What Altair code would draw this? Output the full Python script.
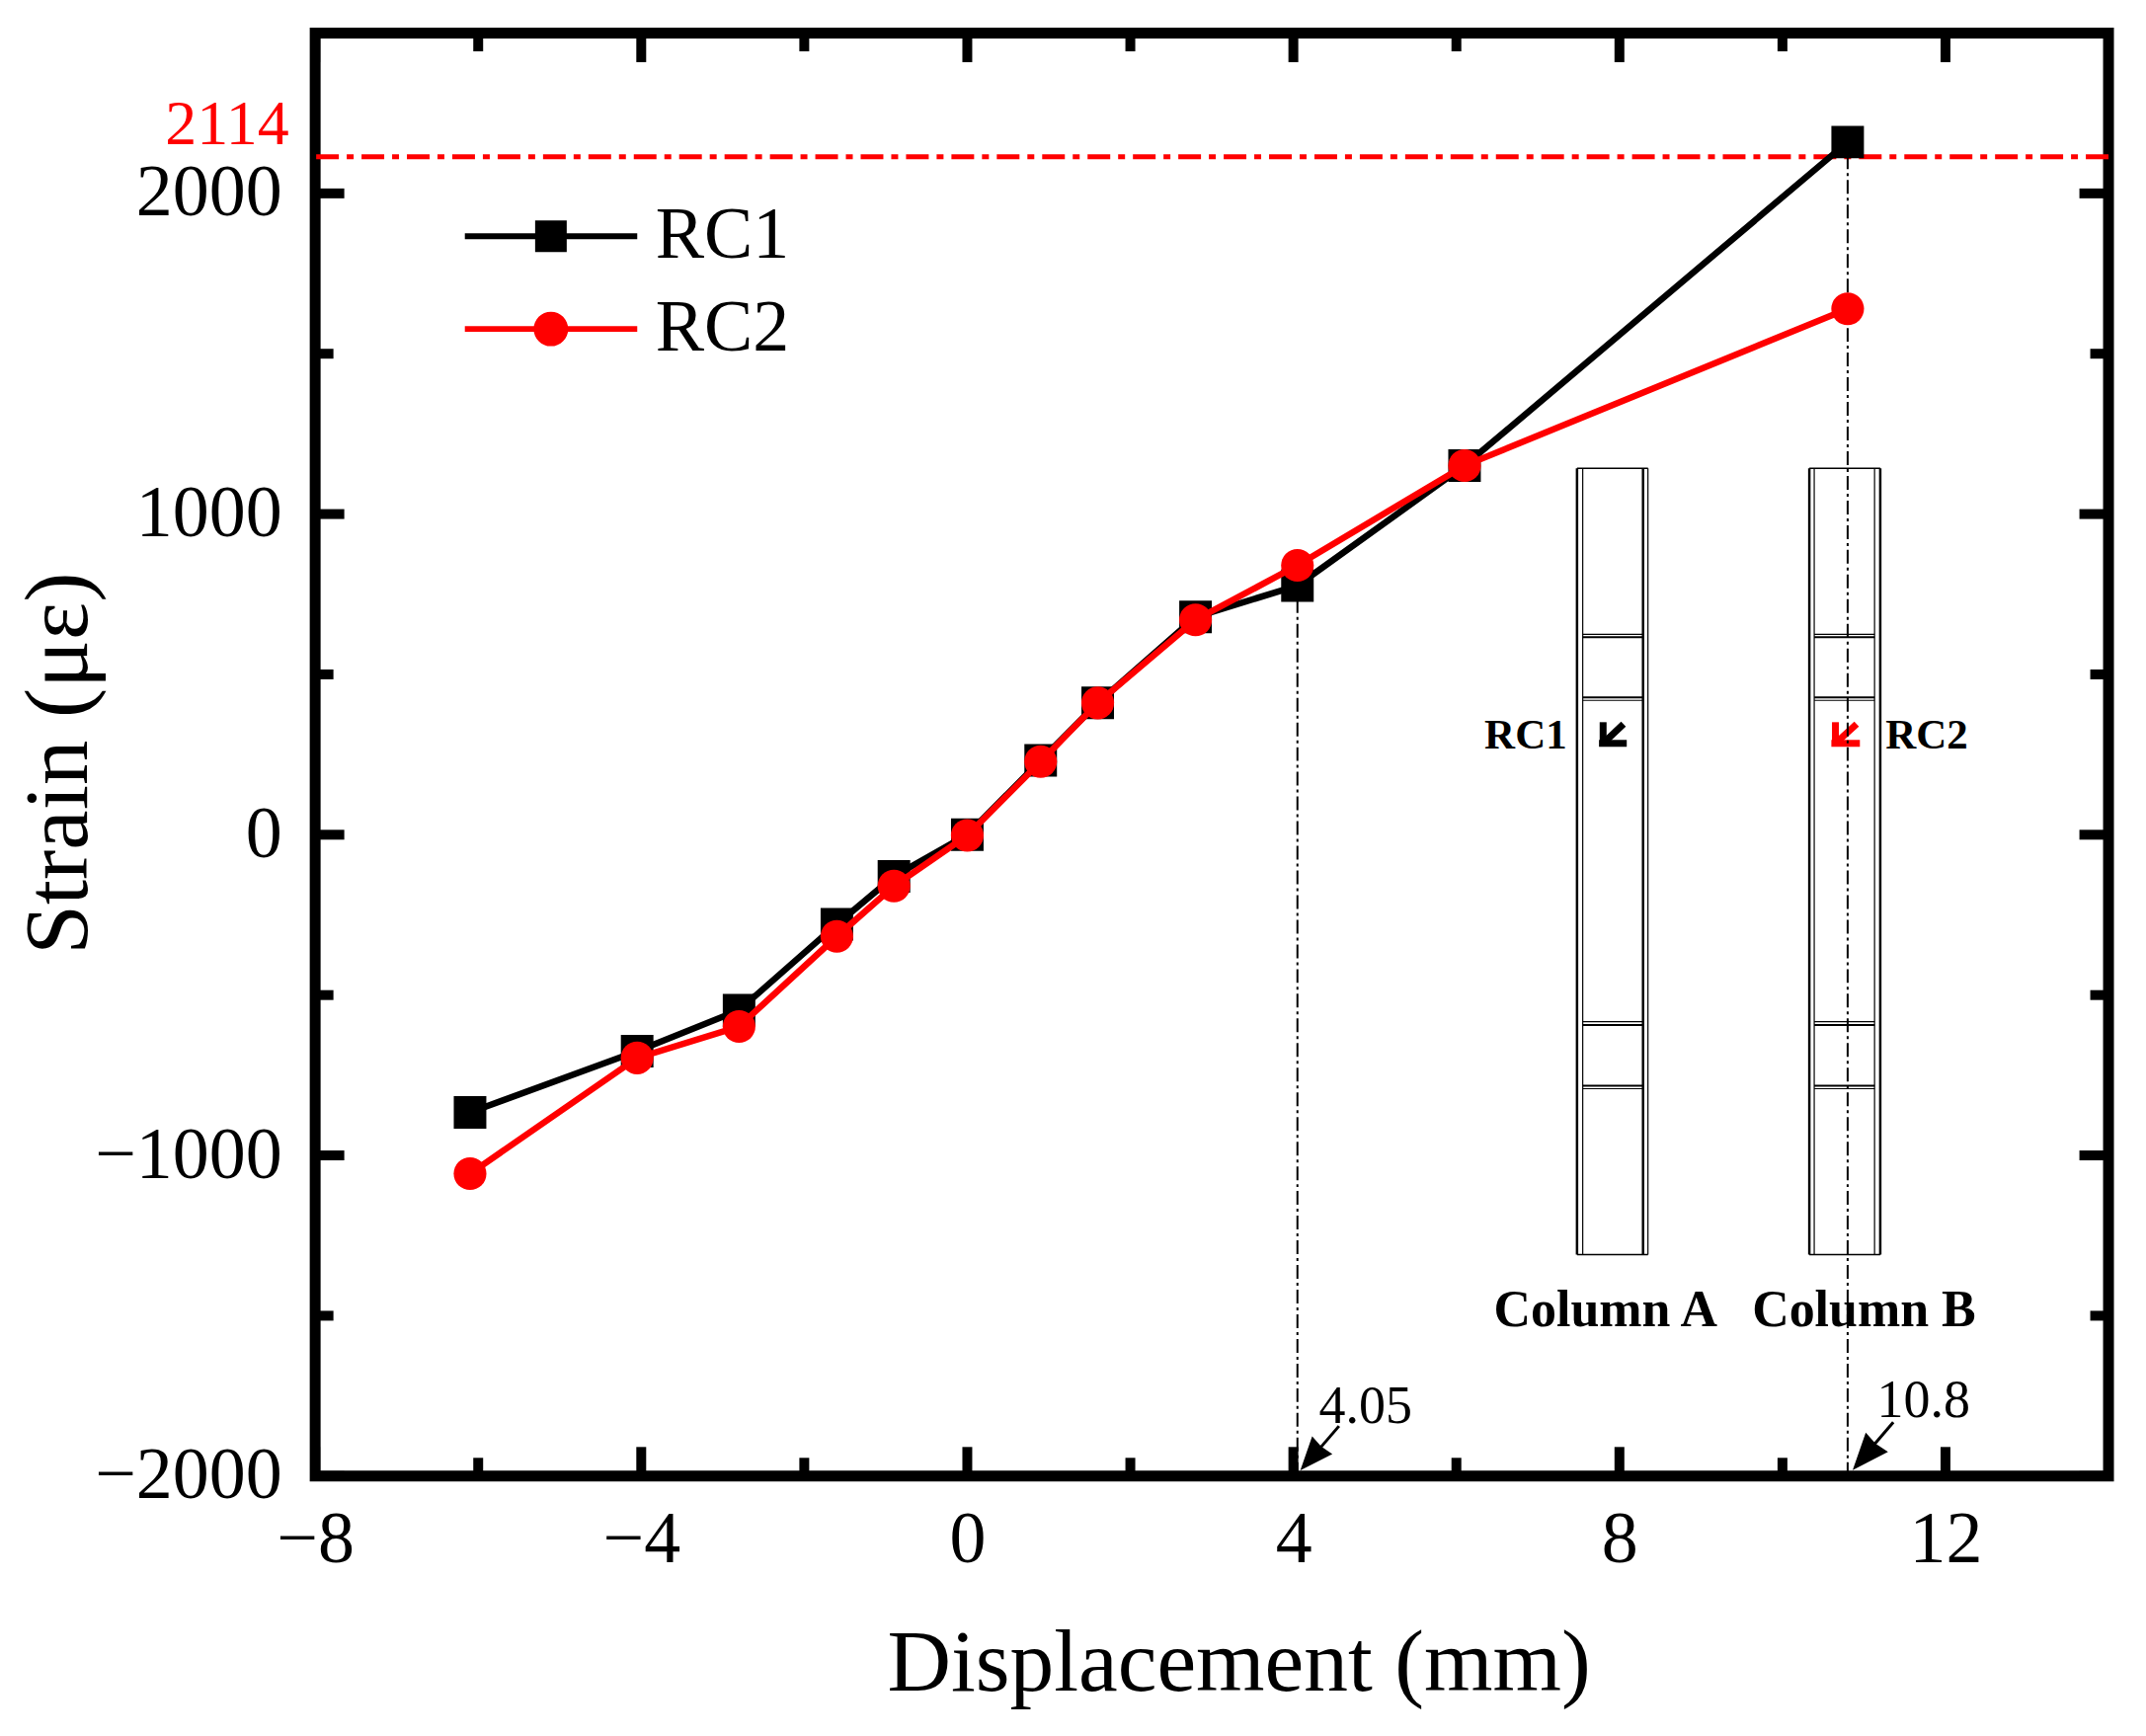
import altair as alt
import pandas as pd

FONT = "Liberation Serif"
SERIES = ["RC1", "RC2"]
DISP = [-6.1, -4.05, -2.8, -1.6, -0.9, 0, 0.9, 1.6, 2.8, 4.05, 6.1, 10.8]
RC1 = [-866, -675, -547, -279, -130, 0, 232, 411, 679, 777, 1151, 2160]
RC2 = [-1057, -696, -598, -317, -160, -2, 228, 411, 670, 840, 1151, 1640]

X_MAJOR = [-8, -4, 0, 4, 8, 12]
X_MINOR = [-6, -2, 2, 6, 10]
Y_MAJOR = [-2000, -1000, 0, 1000, 2000]
Y_MINOR = [-1500, -500, 500, 1500]

LIMIT = 2114
LIMIT_LABEL = ["2114"]
GUIDE_X = [4.05, 10.8]
GUIDE_TOP = [777, 2160]

# inset schematic: column edges and cross lines, in axis units
COL_TOP, COL_BOTTOM = 1143, -1309
COLUMNS = {
    "A": {"outer": [7.48, 8.29], "inner": [7.55, 8.35], "span": [7.55, 8.29]},
    "B": {"outer": [10.33, 11.20], "inner": [10.39, 11.13], "span": [10.39, 11.13]},
}
CROSS_THICK = [616, 428, -593, -783]
CROSS_THIN = [625, 419, -583, -792]

W, H = 1818, 1463
MAJOR_LEN, MINOR_LEN = 29.5, 18.5
TICK_W = 10

x_scale = alt.Scale(domain=[-8, 14], nice=False, zero=False)
y_scale = alt.Scale(domain=[-2000, 2500], nice=False, zero=False)
x_axis = alt.Axis(values=X_MAJOR, tickSize=0, domain=False, grid=False, format="d",
                  labelFont=FONT, labelFontSize=74, labelColor="black", labelPadding=29,
                  labelFlush=False, labelOverlap=False, labelAngle=0, labelLimit=400,
                  title="Displacement (mm)", titleFont=FONT, titleFontSize=89.5,
                  titleFontWeight="normal", titleColor="black", titleX=936, titleY=216.5,
                  titleAlign="center", titleBaseline="alphabetic")
y_axis = alt.Axis(values=Y_MAJOR, tickSize=0, domain=False, grid=False, format="d",
                  labelFont=FONT, labelFontSize=74, labelColor="black", labelPadding=34,
                  labelFlush=False, labelOverlap=False, labelLimit=400,
                  title="Strain (\u03bc\u03b5)", titleFont=FONT, titleFontSize=91,
                  titleFontWeight="normal", titleColor="black", titleX=-231.5, titleY=740,
                  titleAngle=270, titleAlign="center", titleBaseline="alphabetic")


def X(f="x"):
    return alt.X(f"{f}:Q", scale=x_scale, axis=x_axis)


def Y(f="y"):
    return alt.Y(f"{f}:Q", scale=y_scale, axis=y_axis)


df = pd.DataFrame({
    "x": DISP * 2,
    "y": RC1 + RC2,
    "series": ["RC1"] * len(DISP) + ["RC2"] * len(DISP),
})
d1, d2 = df[df.series == "RC1"], df[df.series == "RC2"]

layers = []

# frame ticks on all four sides
for vals, length in [(X_MAJOR, MAJOR_LEN), (X_MINOR, MINOR_LEN)]:
    d = pd.DataFrame({"x": vals})
    layers.append(alt.Chart(d).mark_rule(color="black", strokeWidth=TICK_W).encode(
        x=X(), y=alt.value(H), y2=alt.value(H - length)))
    layers.append(alt.Chart(d).mark_rule(color="black", strokeWidth=TICK_W).encode(
        x=X(), y=alt.value(0), y2=alt.value(length)))
for vals, length in [(Y_MAJOR, MAJOR_LEN), (Y_MINOR, MINOR_LEN)]:
    d = pd.DataFrame({"y": vals})
    layers.append(alt.Chart(d).mark_rule(color="black", strokeWidth=TICK_W).encode(
        y=Y(), x=alt.value(0), x2=alt.value(length)))
    layers.append(alt.Chart(d).mark_rule(color="black", strokeWidth=TICK_W).encode(
        y=Y(), x=alt.value(W), x2=alt.value(W - length)))

# inset columns
segs = []
for c in COLUMNS.values():
    for xv in c["outer"]:
        segs.append(dict(x=xv, x2=xv, y=COL_TOP, y2=COL_BOTTOM, w=2.5))
    for xv in c["inner"]:
        segs.append(dict(x=xv, x2=xv, y=COL_TOP, y2=COL_BOTTOM, w=1.2))
    all_x = c["outer"] + c["inner"]
    segs.append(dict(x=min(all_x), x2=max(all_x), y=COL_TOP, y2=COL_TOP, w=1.5))
    segs.append(dict(x=min(all_x), x2=max(all_x), y=COL_BOTTOM, y2=COL_BOTTOM, w=1.5))
    for yv in CROSS_THICK:
        segs.append(dict(x=c["span"][0], x2=c["span"][1], y=yv, y2=yv, w=2))
    for yv in CROSS_THIN:
        segs.append(dict(x=c["span"][0], x2=c["span"][1], y=yv, y2=yv, w=1.2))
layers.append(alt.Chart(pd.DataFrame(segs)).mark_rule(color="black").encode(
    x=X(), x2="x2:Q", y=Y(), y2="y2:Q", strokeWidth=alt.StrokeWidth("w:Q", scale=None)))

# small L-shaped arrows in the inset
for color, a, b, c_, d_ in [("black", 7.80, 7.75, 8.09, 8.05), ("#ff0000", 10.65, 10.60, 10.95, 10.91)]:
    arrow = pd.DataFrame([
        dict(x=a, x2=a, y=351, y2=275),
        dict(x=b, x2=c_, y=285, y2=285),
        dict(x=a, x2=d_, y=285, y2=345),
    ])
    layers.append(alt.Chart(arrow).mark_rule(color=color, strokeWidth=7).encode(
        x=X(), x2="x2:Q", y=Y(), y2="y2:Q"))

# guides
layers.append(alt.Chart(pd.DataFrame({"y": [LIMIT]})).mark_rule(
    color="#ff0000", strokeWidth=5, strokeDash=[23, 8, 7, 8]).encode(y=Y()))
layers.append(alt.Chart(pd.DataFrame({"x": GUIDE_X, "y": [-2000, -2000], "y2": GUIDE_TOP})).mark_rule(
    color="black", strokeWidth=2, strokeDash=[14, 4, 3, 4]).encode(x=X(), y=Y(), y2="y2:Q"))

# callout arrows
shafts = pd.DataFrame([
    dict(x=4.56, y=-1844, x2=4.30, y2=-1921),
    dict(x=11.36, y=-1832, x2=11.08, y2=-1915),
])
layers.append(alt.Chart(shafts).mark_rule(color="black", strokeWidth=3).encode(
    x=X(), x2="x2:Q", y=Y(), y2="y2:Q"))
HEAD = "M0,-1L0.8,1L0,0.9L-0.8,1Z"
heads = pd.DataFrame([dict(x=4.22, y=-1943, s=1150), dict(x=11.01, y=-1938, s=1400)])
layers.append(alt.Chart(heads).mark_point(shape=HEAD, filled=True, color="black", opacity=1,
                                          angle=221, strokeWidth=0).encode(
    x=X(), y=Y(), size=alt.Size("s:Q", scale=None)))

# data series
layers.append(alt.Chart(d1).mark_line(color="black", strokeWidth=6.5).encode(x=X(), y=Y(), order="x:Q"))
layers.append(alt.Chart(d1).mark_point(shape="square", filled=True, color="black", opacity=1,
                                       size=1089, strokeWidth=0).encode(x=X(), y=Y()))
layers.append(alt.Chart(d2).mark_line(color="#ff0000", strokeWidth=6.5).encode(x=X(), y=Y(), order="x:Q"))
layers.append(alt.Chart(d2).mark_point(shape="circle", filled=True, color="#ff0000", opacity=1,
                                       size=1100, strokeWidth=0).encode(x=X(), y=Y()))

# text annotations
def text(rows, size, color="black", weight="normal", align="center"):
    return alt.Chart(pd.DataFrame(rows)).mark_text(
        font=FONT, fontSize=size, color=color, fontWeight=weight, align=align,
        baseline="alphabetic").encode(x=X(), y=Y(), text="t:N")


layers.append(text([dict(x=-8.32, y=2152, t=LIMIT_LABEL[0])], 64, color="#ff0000", align="right"))
layers.append(text([dict(x=4.885, y=-1834, t="4.05"), dict(x=11.73, y=-1816, t="10.8")], 54))
layers.append(text([dict(x=6.85, y=268, t="RC1"), dict(x=11.77, y=268, t="RC2")], 43, weight="bold"))
layers.append(text([dict(x=7.83, y=-1533, t="Column A"), dict(x=11.0, y=-1533, t="Column B")], 52, weight="bold"))

# native legend, from an empty layer so only the scales feed it
LINE = "M-1,-0.034H1V0.034H-1Z"
LEGEND_SHAPES = [
    LINE + "M-0.183,-0.183H0.183V0.183H-0.183Z",
    LINE + "M0.2,0A0.2,0.2,0,1,1,-0.2,0A0.2,0.2,0,1,1,0.2,0Z",
]
leg = alt.Legend(title=None, orient="none", legendX=151.5, legendY=159, padding=0,
                 symbolSize=30625, clipHeight=94, rowPadding=0, labelOffset=18.5,
                 symbolStrokeWidth=0, symbolOpacity=1, labelFont=FONT, labelFontSize=74,
                 labelColor="black", labelLimit=400, labelBaseline="middle")
layers.append(alt.Chart(df).transform_filter("false").mark_point(filled=True, opacity=1).encode(
    x=X(), y=Y(),
    color=alt.Color("series:N", scale=alt.Scale(domain=SERIES, range=["black", "#ff0000"]), legend=leg),
    shape=alt.Shape("series:N", scale=alt.Scale(domain=SERIES, range=LEGEND_SHAPES), legend=leg),
))

chart = alt.layer(*layers).properties(
    width=W, height=H,
    padding={"left": 311.5, "top": 24.5, "right": 30, "bottom": 250},
    autosize=alt.AutoSizeParams(type="none"),
    background="white",
).configure_view(stroke="black", strokeWidth=11)

chart.save("out.html", embed_options={"renderer": "svg", "actions": False})
